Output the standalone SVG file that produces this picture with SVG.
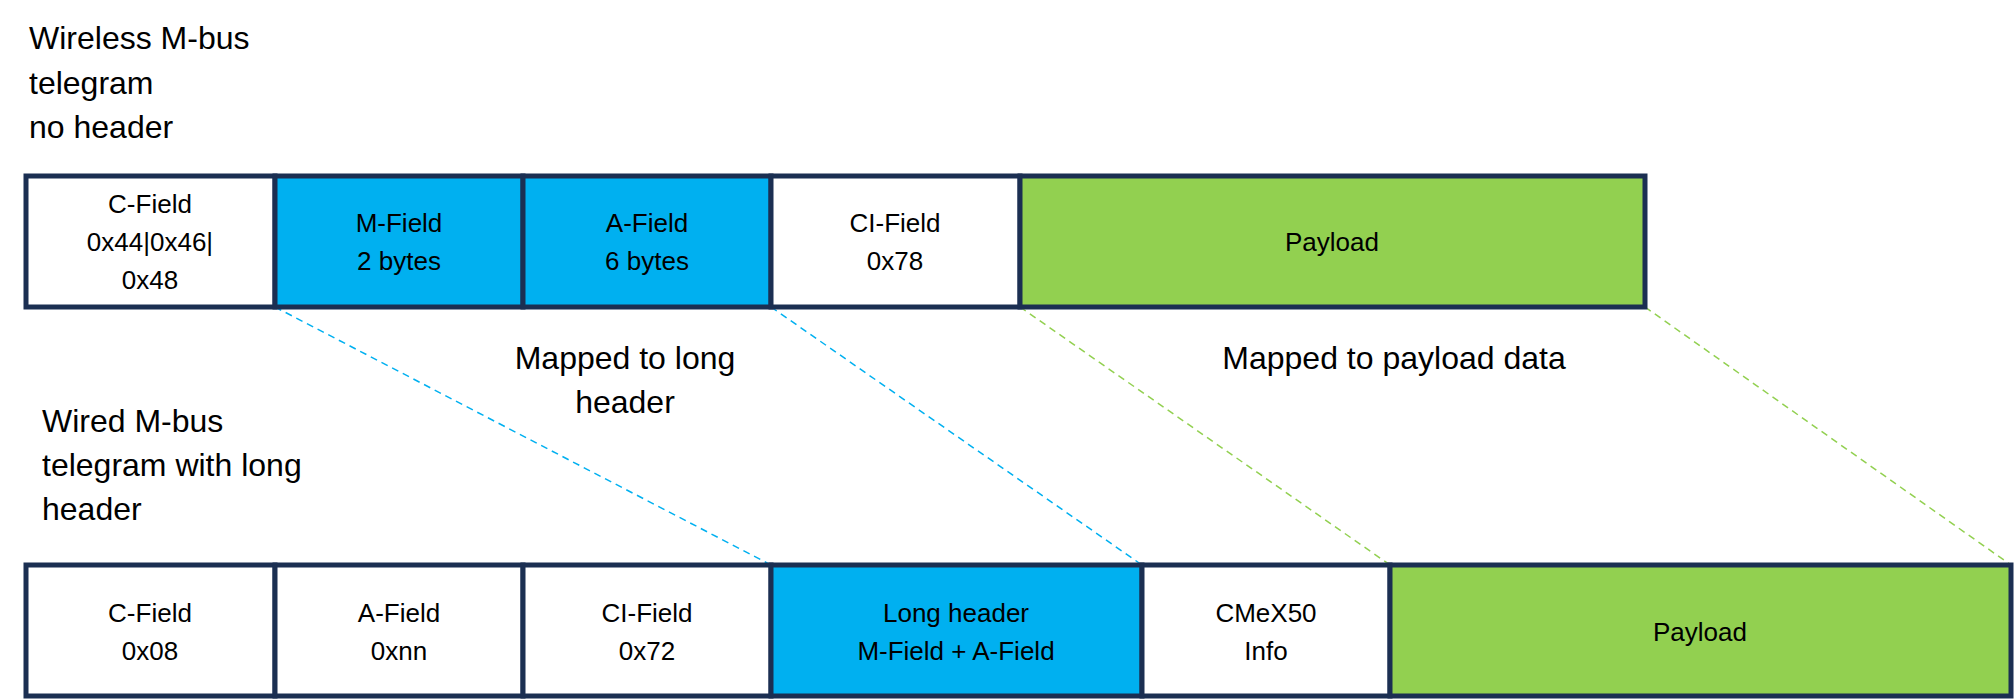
<svg xmlns="http://www.w3.org/2000/svg" width="2015" height="699" viewBox="0 0 2015 699">
<style>
.b{stroke:#1b2f52;stroke-width:5}
.w{fill:#fff}.bl{fill:#00b0f0}.g{fill:#92d050}
text{font-family:"Liberation Sans",Arial,sans-serif;fill:#000}
.t{font-size:26px;text-anchor:middle}
.h{font-size:32px}
.c{stroke-width:1.5;stroke-dasharray:7,5;fill:none}
</style>
<rect width="2015" height="699" fill="#fff"/>
<g id="labels" class="h">
<text x="29" y="49">Wireless M-bus</text><text x="29" y="94">telegram</text><text x="29" y="138">no header</text>
<text x="42" y="432">Wired M-bus</text><text x="42" y="476">telegram with long</text><text x="42" y="520">header</text>
<text x="625" y="369" text-anchor="middle">Mapped to long</text><text x="625" y="413" text-anchor="middle">header</text>
<text x="1394" y="369" text-anchor="middle">Mapped to payload data</text>
</g>
<g id="connectors">
<line class="c" stroke="#00b0f0" x1="275" y1="307" x2="771" y2="565"/>
<line class="c" stroke="#00b0f0" x1="771" y1="307" x2="1142" y2="565"/>
<line class="c" stroke="#92d050" x1="1020" y1="307" x2="1390" y2="565"/>
<line class="c" stroke="#92d050" x1="1645" y1="307" x2="2011" y2="565"/>
</g>
<g id="w-cfield"><rect class="b w" x="26" y="176" width="249" height="131"/><text class="t" x="150" y="213">C-Field</text><text class="t" x="150" y="251">0x44|0x46|</text><text class="t" x="150" y="289">0x48</text></g>
<g id="w-mfield"><rect class="b bl" x="275" y="176" width="248" height="131"/><text class="t" x="399" y="232">M-Field</text><text class="t" x="399" y="270">2 bytes</text></g>
<g id="w-afield"><rect class="b bl" x="523" y="176" width="248" height="131"/><text class="t" x="647" y="232">A-Field</text><text class="t" x="647" y="270">6 bytes</text></g>
<g id="w-cifield"><rect class="b w" x="771" y="176" width="249" height="131"/><text class="t" x="895" y="232">CI-Field</text><text class="t" x="895" y="270">0x78</text></g>
<g id="w-payload"><rect class="b g" x="1020" y="176" width="625" height="131"/><text class="t" x="1332" y="251">Payload</text></g>
<g id="d-cfield"><rect class="b w" x="26" y="565" width="249" height="131"/><text class="t" x="150" y="622">C-Field</text><text class="t" x="150" y="660">0x08</text></g>
<g id="d-afield"><rect class="b w" x="275" y="565" width="248" height="131"/><text class="t" x="399" y="622">A-Field</text><text class="t" x="399" y="660">0xnn</text></g>
<g id="d-cifield"><rect class="b w" x="523" y="565" width="248" height="131"/><text class="t" x="647" y="622">CI-Field</text><text class="t" x="647" y="660">0x72</text></g>
<g id="d-longheader"><rect class="b bl" x="771" y="565" width="371" height="131"/><text class="t" x="956" y="622">Long header</text><text class="t" x="956" y="660">M-Field + A-Field</text></g>
<g id="d-cmex"><rect class="b w" x="1142" y="565" width="248" height="131"/><text class="t" x="1266" y="622">CMeX50</text><text class="t" x="1266" y="660">Info</text></g>
<g id="d-payload"><rect class="b g" x="1390" y="565" width="621" height="131"/><text class="t" x="1700" y="641">Payload</text></g>
</svg>
